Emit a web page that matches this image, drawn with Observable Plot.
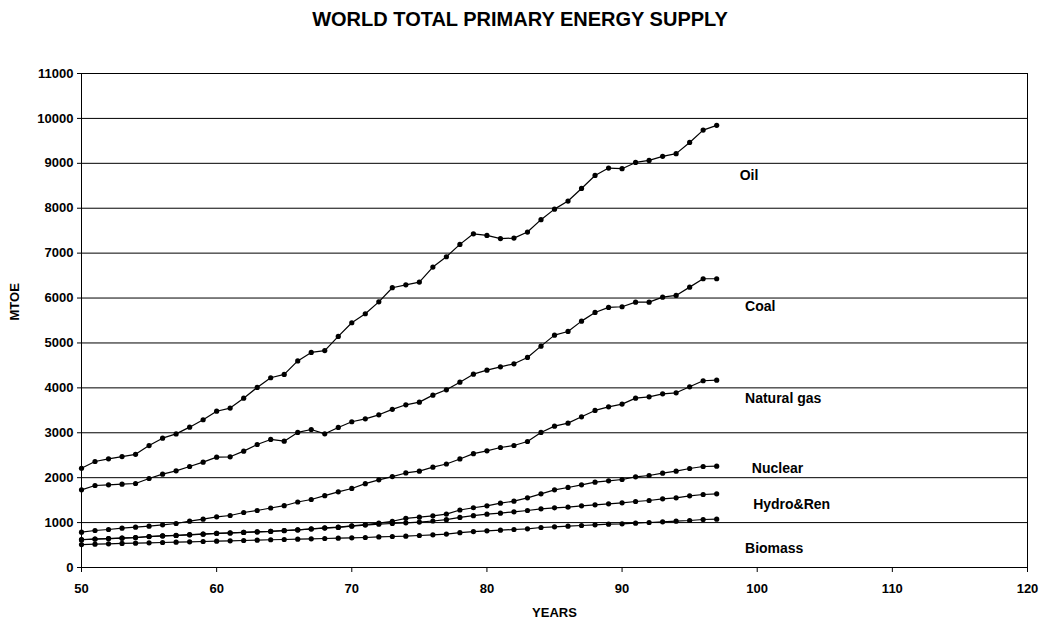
<!DOCTYPE html>
<html>
<head>
<meta charset="utf-8">
<script src="https://cdn.jsdelivr.net/npm/d3@7"></script>
<script src="https://cdn.jsdelivr.net/npm/@observablehq/plot@0.6"></script>
<style>
  html, body { margin: 0; padding: 0; background: #fff; }
  #title { width: 1040px; height: 40px; line-height: 38px; text-align: center;
           font-family: "Liberation Sans", Arial, sans-serif; font-weight: bold; font-size: 20px; color: #000; }
</style>
</head>
<body>
<div id="title">WORLD TOTAL PRIMARY ENERGY SUPPLY</div>
<div id="chart"></div>
<script>
const years = d3.range(50, 98);

const oil = [2210, 2360, 2420, 2470, 2520, 2715, 2880, 2975, 3125, 3290,
             3480, 3550, 3770, 4010, 4225, 4300, 4600, 4790, 4830, 5145,
             5450, 5650, 5915, 6230, 6295, 6355, 6690, 6920, 7195, 7430,
             7395, 7325, 7335, 7470, 7745, 7980, 8160, 8440, 8730, 8895,
             8880, 9020, 9065, 9155, 9215, 9465, 9740, 9845];
const coal = [1730, 1826, 1841, 1856, 1871, 1982, 2079, 2153, 2249, 2346,
              2457, 2465, 2591, 2739, 2851, 2813, 3007, 3073, 2977, 3118,
              3245, 3311, 3400, 3522, 3623, 3682, 3838, 3957, 4127, 4305,
              4394, 4469, 4536, 4677, 4929, 5174, 5256, 5486, 5679, 5791,
              5806, 5909, 5909, 6020, 6058, 6243, 6430, 6430];
const gas = [787, 824, 846, 876, 898, 921, 950, 980, 1032, 1076,
             1128, 1158, 1225, 1269, 1325, 1376, 1458, 1514, 1600, 1685,
             1760, 1867, 1952, 2025, 2105, 2146, 2235, 2305, 2417, 2535,
             2598, 2672, 2717, 2806, 3007, 3148, 3214, 3356, 3497, 3578,
             3638, 3771, 3801, 3868, 3890, 4024, 4158, 4172];
const nuclear = [620, 635, 645, 655, 668, 690, 705, 715, 730, 745,
                 760, 770, 782, 795, 805, 824, 839, 861, 883, 898,
                 928, 958, 990, 1030, 1095, 1120, 1150, 1190, 1280, 1330,
                 1373, 1433, 1477, 1552, 1641, 1730, 1782, 1841, 1900, 1930,
                 1960, 2019, 2049, 2101, 2145, 2205, 2249, 2257];
const hydro = [618, 633, 643, 653, 666, 688, 703, 713, 728, 743,
               758, 768, 780, 793, 803, 821, 836, 857, 878, 893,
               920, 945, 965, 980, 995, 1012, 1035, 1065, 1115, 1155,
               1188, 1210, 1240, 1269, 1307, 1329, 1344, 1373, 1396, 1418,
               1440, 1470, 1492, 1529, 1552, 1596, 1626, 1641];
const biomass = [510, 520, 527, 535, 542, 549, 557, 564, 572, 579,
                 587, 594, 601, 609, 618, 624, 631, 638, 646, 653,
                 661, 668, 680, 690, 698, 713, 727, 745, 775, 800,
                 817, 831, 846, 861, 891, 906, 921, 935, 950, 965,
                 972, 987, 1002, 1017, 1032, 1047, 1069, 1076];

const seriesNames = ["Oil", "Coal", "Natural gas", "Nuclear", "Hydro&Ren", "Biomass"];
const seriesValues = [oil, coal, gas, nuclear, hydro, biomass];

// label anchors (data coordinates)
const labelYears = [98.7, 99.1, 99.1, 99.6, 99.7, 99.1];
const labelValues = [8730, 5810, 3760, 2205, 1400, 420];

const xTicks = [50, 60, 70, 80, 90, 100, 110, 120];
const yTicks = d3.range(0, 11001, 1000);

const rows = [];
seriesNames.forEach((name, i) => {
  years.forEach((yr, j) => rows.push({series: name, year: yr, value: seriesValues[i][j]}));
});
const labels = seriesNames.map((name, i) => ({name, year: labelYears[i], value: labelValues[i]}));

const chart = Plot.plot({
  width: 1040,
  height: 584,
  marginTop: 33,
  marginBottom: 57,
  marginLeft: 81,
  marginRight: 13,
  style: {fontFamily: "'Liberation Sans', Arial, sans-serif", fontSize: "13px", fontWeight: "bold", color: "#000", background: "#fff"},
  x: {domain: [50, 120]},
  y: {domain: [0, 11000]},
  marks: [
    Plot.gridY(yTicks, {stroke: "#000", strokeOpacity: 1, strokeWidth: 1}),
    Plot.frame({stroke: "#000", strokeWidth: 1}),
    Plot.axisY({ticks: yTicks, tickSize: 4, tickPadding: 4, label: null, fontSize: 13, tickFormat: d => String(d)}),
    Plot.axisX({ticks: xTicks, tickSize: 5, tickPadding: 11, label: null, fontSize: 13, tickFormat: d => String(d)}),
    Plot.text(["MTOE"], {frameAnchor: "left", dx: -67, rotate: -90, fontSize: 13, fontWeight: "bold"}),
    Plot.text(["YEARS"], {frameAnchor: "bottom", dy: 45, lineAnchor: "middle", fontSize: 13, fontWeight: "bold"}),
    Plot.line(rows, {x: "year", y: "value", z: "series", stroke: "#000", strokeWidth: 1.2}),
    Plot.dot(rows, {x: "year", y: "value", r: 2.6, fill: "#000", stroke: "none"}),
    Plot.text(labels, {x: "year", y: "value", text: "name", textAnchor: "start", fontSize: 14, fontWeight: "bold"})
  ]
});
document.getElementById("chart").appendChild(chart);
</script>
</body>
</html>
